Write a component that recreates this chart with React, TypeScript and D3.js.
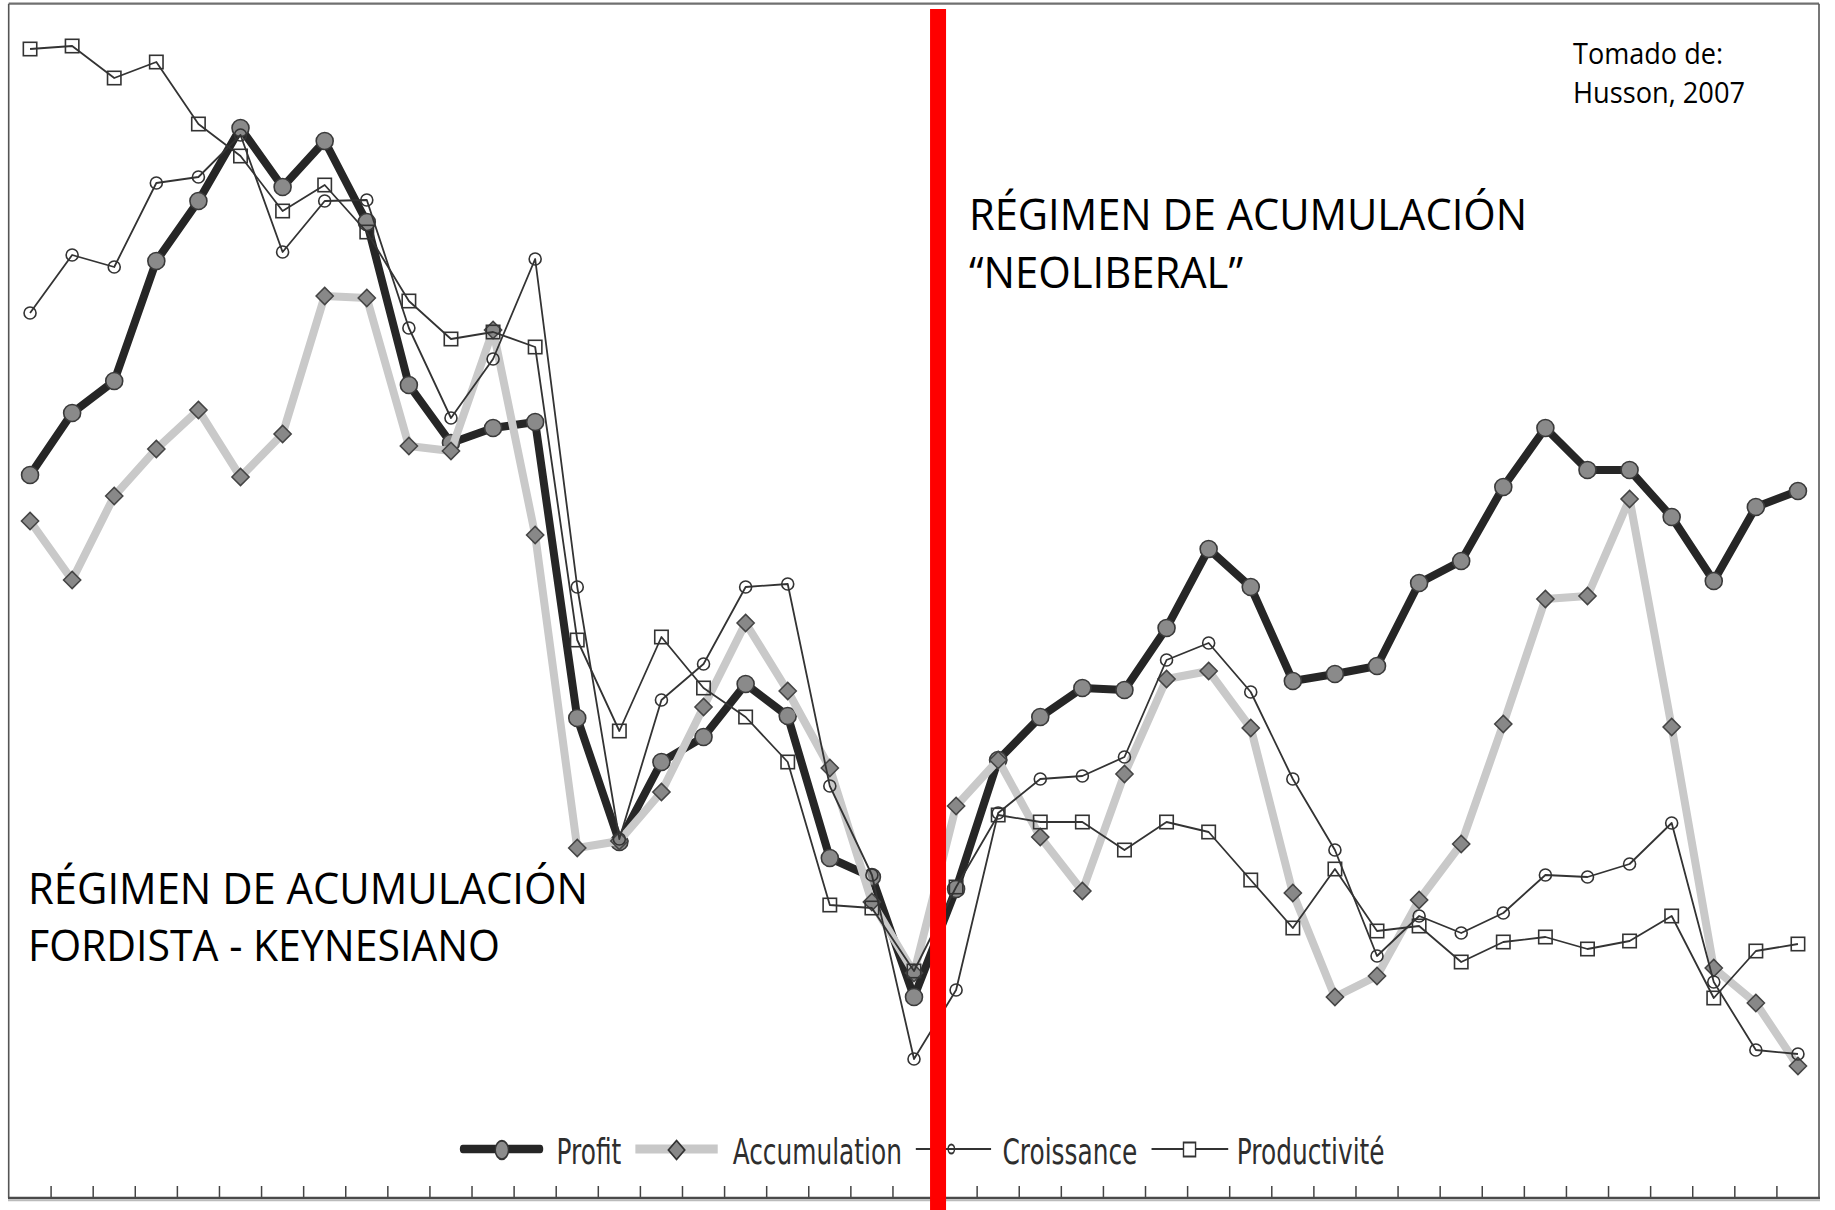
import React from 'react';
import * as d3 from 'd3';

// ---- Data (arbitrary index units; no axis labels in the original) ----
const profit = [62.5, 68.7, 71.9, 83.9, 89.9, 97.2, 91.3, 95.9, 87.8, 71.5, 65.7, 67.2, 67.8, 38.2, 25.8, 33.8, 36.3, 41.6, 38.4, 24.2, 22.3, 10.3, 21.1, 34.0, 38.3, 41.2, 41.0, 47.2, 55.1, 51.3, 41.9, 42.6, 43.4, 51.7, 53.9, 61.3, 67.2, 63.0, 63.0, 58.3, 51.9, 59.3, 60.9];
const accumulation = [57.9, 52.0, 60.4, 65.1, 69.0, 62.3, 66.6, 80.4, 80.2, 65.4, 64.9, 77.0, 56.5, 25.2, 25.9, 30.8, 39.3, 47.7, 40.9, 33.2, 19.8, 12.7, 29.4, 34.0, 26.3, 20.9, 32.6, 42.1, 42.9, 37.2, 20.7, 10.3, 12.4, 20.0, 25.6, 37.6, 50.1, 50.4, 60.1, 37.3, 13.2, 9.7, 3.4];
const croissance = [78.7, 84.5, 83.3, 91.7, 92.3, 96.5, 84.8, 89.9, 90.0, 77.2, 68.2, 74.1, 84.1, 51.3, 26.1, 40.0, 43.6, 51.3, 51.6, 31.4, 22.5, 4.1, 11.0, 28.7, 32.1, 32.4, 34.3, 44.0, 45.7, 40.8, 32.1, 25.0, 14.4, 18.4, 16.7, 18.7, 22.5, 22.3, 23.6, 27.7, 11.8, 5.0, 4.6];
const productivite = [105.1, 105.4, 102.2, 103.8, 97.6, 94.4, 88.9, 91.5, 86.8, 79.9, 76.1, 76.8, 75.3, 46.0, 36.9, 46.3, 41.2, 38.3, 33.8, 19.5, 19.2, 12.9, 21.3, 28.5, 27.8, 27.8, 25.0, 27.8, 26.8, 22.0, 17.2, 23.1, 16.9, 17.4, 13.8, 15.8, 16.3, 15.1, 15.9, 18.4, 10.2, 14.9, 15.6];
const categories = d3.range(profit.length);
const breakIndex = 22; // regime change marker (red bar) sits at the start of this period
const legendLabels = ['Profit', 'Accumulation', 'Croissance', 'Productivité'];
const leftTitle = ['RÉGIMEN DE ACUMULACIÓN', 'FORDISTA - KEYNESIANO'];
const rightTitle = ['RÉGIMEN DE ACUMULACIÓN', '\u201CNEOLIBERAL\u201D'];
const sourceNote = ['Tomado de:', 'Husson, 2007'];

const W = 1835;
const H = 1210;

export default function App() {
  const x = d3.scaleBand<number>().domain(categories).range([9, 1819]).padding(0);
  const cx = (i: number) => (x(i) as number) + x.bandwidth() / 2;
  const y = d3.scaleLinear().domain([0, 110]).range([1100, 0]);
  const line = d3
    .line<number>()
    .x((_, i) => cx(i))
    .y((d) => y(d));

  const axisY = 1198;
  const ticks = categories.slice(1);
  const diamond = (s: number) => `M0,${-s}L${s},0L0,${s}L${-s},0Z`;
  const redX = (x(breakIndex) as number) + 3;

  const titleFont = "'Open Sans', 'Liberation Sans', sans-serif";
  const legendFont = "'DejaVu Sans', Verdana, sans-serif";

  return (
    <svg
      width={W}
      height={H}
      viewBox={`0 0 ${W} ${H}`}
      style={{ position: 'absolute', left: 0, top: 0, display: 'block' }}
    >
      <rect x={0} y={0} width={W} height={H} fill="#ffffff" />

      {/* frame */}
      <line x1={8.7} x2={1819} y1={3.7} y2={3.7} stroke="#707070" strokeWidth={2.2} />
      <line x1={8.7} x2={8.7} y1={3.7} y2={axisY} stroke="#555" strokeWidth={1.6} />
      <line x1={1819} x2={1819} y1={3.7} y2={axisY} stroke="#555" strokeWidth={1.6} />
      {ticks.map((t) => (
        <line
          key={t}
          x1={x(t) as number}
          x2={x(t) as number}
          y1={axisY - 12}
          y2={axisY}
          stroke="#444"
          strokeWidth={1.5}
        />
      ))}
      <line x1={8} x2={1820} y1={axisY + 2.4} y2={axisY + 2.4} stroke="#bbb" strokeWidth={1.5} />
      <line x1={8} x2={1820} y1={axisY} y2={axisY} stroke="#4a4a4a" strokeWidth={2.6} />

      {/* Profit */}
      <path
        d={line(profit) as string}
        fill="none"
        stroke="#262626"
        strokeWidth={8}
        strokeLinejoin="round"
      />
      {profit.map((v, i) => (
        <circle key={'p' + i} cx={cx(i)} cy={y(v)} r={8.5} fill="#8a8a8a" stroke="#3a3a3a" strokeWidth={1.6} />
      ))}

      {/* Accumulation */}
      <path
        d={line(accumulation) as string}
        fill="none"
        stroke="#c9c9c9"
        strokeWidth={8}
        strokeLinejoin="round"
      />
      {accumulation.map((v, i) => (
        <path
          key={'a' + i}
          transform={`translate(${cx(i)},${y(v)})`}
          d={diamond(8.6)}
          fill="#888"
          stroke="#444"
          strokeWidth={1.5}
        />
      ))}

      {/* Croissance */}
      <path d={line(croissance) as string} fill="none" stroke="#333" strokeWidth={1.8} strokeLinejoin="round" />
      {croissance.map((v, i) => (
        <circle key={'c' + i} cx={cx(i)} cy={y(v)} r={6} fill="none" stroke="#333" strokeWidth={1.6} />
      ))}

      {/* Productivité */}
      <path d={line(productivite) as string} fill="none" stroke="#333" strokeWidth={1.8} strokeLinejoin="round" />
      {productivite.map((v, i) => (
        <rect
          key={'q' + i}
          x={cx(i) - 6.7}
          y={y(v) - 6.7}
          width={13.4}
          height={13.4}
          fill="none"
          stroke="#333"
          strokeWidth={1.6}
        />
      ))}

      {/* Legend (horizontally condensed) */}
      <g transform="translate(460,0) scale(0.71,1)">
        <line x1={4} x2={113} y1={1149} y2={1149} stroke="#262626" strokeWidth={8.5} strokeLinecap="round" />
        <circle cx={59} cy={1150} r={9.3} fill="#8c8c8c" stroke="#333" strokeWidth={2} />
        <text x={136} y={1164} fontFamily={legendFont} fontSize={35} fill="#2e2e2e">
          {legendLabels[0]}
        </text>

        <line x1={247} x2={363} y1={1149} y2={1149} stroke="#c8c8c8" strokeWidth={9} />
        <path transform="translate(305,1150)" d="M0,-9.5L11.5,0L0,9.5L-11.5,0Z" fill="#888" stroke="#333" strokeWidth={2} />
        <text x={384} y={1164} fontFamily={legendFont} fontSize={35} fill="#2e2e2e">
          {legendLabels[1]}
        </text>

        <line x1={642} x2={748} y1={1149} y2={1149} stroke="#333" strokeWidth={1.8} />
        <circle cx={692} cy={1149} r={4.5} fill="none" stroke="#333" strokeWidth={2} />
        <text x={764} y={1164} fontFamily={legendFont} fontSize={35} fill="#2e2e2e">
          {legendLabels[2]}
        </text>

        <line x1={974} x2={1082} y1={1149} y2={1149} stroke="#333" strokeWidth={1.8} />
        <rect x={1019} y={1142.5} width={17} height={14} fill="#fff" stroke="#333" strokeWidth={2} />
        <text x={1094} y={1164} fontFamily={legendFont} fontSize={35} fill="#2e2e2e">
          {legendLabels[3]}
        </text>
      </g>

      {/* red regime break */}
      <rect x={redX - 8} y={9} width={16} height={H - 9} fill="#ff0000" />

      {/* annotations */}
      <text x={969} y={230} fontFamily={titleFont} fontSize={43} fill="#000" textLength={558} lengthAdjust="spacingAndGlyphs">
        {rightTitle[0]}
      </text>
      <text x={969} y={288} fontFamily={titleFont} fontSize={43} fill="#000" textLength={274} lengthAdjust="spacingAndGlyphs">
        {rightTitle[1]}
      </text>
      <text x={28} y={904} fontFamily={titleFont} fontSize={43} fill="#000" textLength={560} lengthAdjust="spacingAndGlyphs">
        {leftTitle[0]}
      </text>
      <text x={28} y={961} fontFamily={titleFont} fontSize={43} fill="#000" textLength={472} lengthAdjust="spacingAndGlyphs">
        {leftTitle[1]}
      </text>
      <text x={1573} y={64} fontFamily={titleFont} fontSize={28.5} fill="#000" textLength={150} lengthAdjust="spacingAndGlyphs">
        {sourceNote[0]}
      </text>
      <text x={1573} y={103} fontFamily={titleFont} fontSize={28.5} fill="#000" textLength={172} lengthAdjust="spacingAndGlyphs">
        {sourceNote[1]}
      </text>
    </svg>
  );
}
